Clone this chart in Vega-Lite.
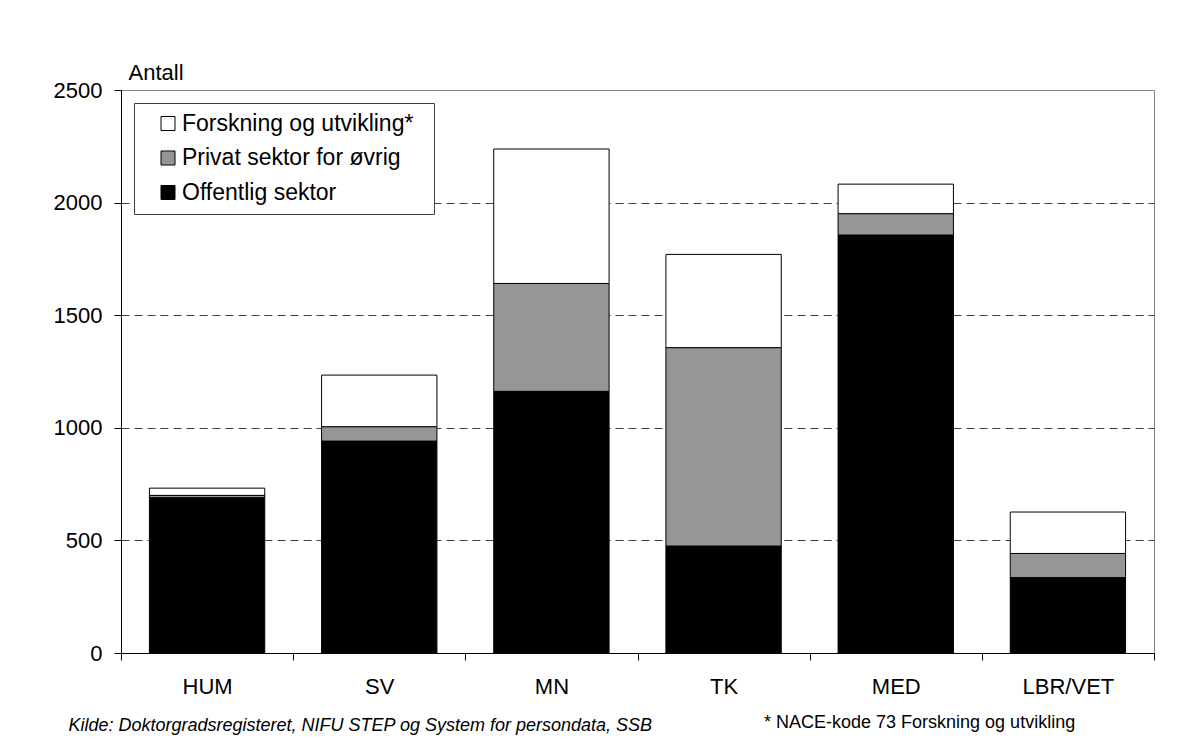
{
  "$schema": "https://vega.github.io/schema/vega-lite/v6.json",
  "width": 1033,
  "height": 563,
  "autosize": "none",
  "padding": {"left": 121, "top": 90, "right": 39, "bottom": 89},
  "background": "white",
  "config": {
    "font": "Liberation Sans",
    "view": {"stroke": "#808080", "strokeWidth": 1}
  },
  "title": {
    "text": "* NACE-kode 73 Forskning og utvikling",
    "orient": "bottom",
    "anchor": "start",
    "frame": "group",
    "dx": 643,
    "offset": -6,
    "baseline": "alphabetic",
    "fontSize": 18,
    "fontWeight": "normal",
    "color": "black"
  },
  "data": {
    "values": [
      {"fag": "HUM", "sektor": "Offentlig sektor", "rekke": 1, "antall": 690},
      {"fag": "HUM", "sektor": "Privat sektor for øvrig", "rekke": 2, "antall": 10},
      {"fag": "HUM", "sektor": "Forskning og utvikling*", "rekke": 3, "antall": 32},
      {"fag": "SV", "sektor": "Offentlig sektor", "rekke": 1, "antall": 941},
      {"fag": "SV", "sektor": "Privat sektor for øvrig", "rekke": 2, "antall": 64},
      {"fag": "SV", "sektor": "Forskning og utvikling*", "rekke": 3, "antall": 229},
      {"fag": "MN", "sektor": "Offentlig sektor", "rekke": 1, "antall": 1162},
      {"fag": "MN", "sektor": "Privat sektor for øvrig", "rekke": 2, "antall": 479},
      {"fag": "MN", "sektor": "Forskning og utvikling*", "rekke": 3, "antall": 597},
      {"fag": "TK", "sektor": "Offentlig sektor", "rekke": 1, "antall": 475},
      {"fag": "TK", "sektor": "Privat sektor for øvrig", "rekke": 2, "antall": 881},
      {"fag": "TK", "sektor": "Forskning og utvikling*", "rekke": 3, "antall": 414},
      {"fag": "MED", "sektor": "Offentlig sektor", "rekke": 1, "antall": 1856},
      {"fag": "MED", "sektor": "Privat sektor for øvrig", "rekke": 2, "antall": 95},
      {"fag": "MED", "sektor": "Forskning og utvikling*", "rekke": 3, "antall": 131},
      {"fag": "LBR/VET", "sektor": "Offentlig sektor", "rekke": 1, "antall": 335},
      {"fag": "LBR/VET", "sektor": "Privat sektor for øvrig", "rekke": 2, "antall": 107},
      {"fag": "LBR/VET", "sektor": "Forskning og utvikling*", "rekke": 3, "antall": 184}
    ]
  },
  "mark": {"type": "bar", "stroke": "black", "strokeWidth": 1},
  "encoding": {
    "x": {
      "field": "fag",
      "type": "nominal",
      "sort": ["HUM", "SV", "MN", "TK", "MED", "LBR/VET"],
      "scale": {"paddingInner": 0.33, "paddingOuter": 0.165},
      "axis": {
        "title": "Kilde: Doktorgradsregisteret, NIFU STEP og System for persondata, SSB",
        "titleFontStyle": "italic",
        "titleFontWeight": "normal",
        "titleFontSize": 18,
        "titleColor": "black",
        "titleX": -53,
        "titleY": 77,
        "titleAlign": "left",
        "titleAnchor": "start",
        "titleBaseline": "alphabetic",
        "labelAngle": 0,
        "labelFontSize": 22,
        "labelColor": "black",
        "labelPadding": 16,
        "domainColor": "black",
        "tickColor": "black",
        "tickSize": 7,
        "bandPosition": 1.4926,
        "tickOffset": -28.4,
        "tickExtra": true,
        "labelOffset": 28.4
      }
    },
    "y": {
      "field": "antall",
      "type": "quantitative",
      "stack": "zero",
      "scale": {"domain": [0, 2500], "nice": false},
      "axis": {
        "values": [0, 500, 1000, 1500, 2000, 2500],
        "format": "d",
        "title": "Antall",
        "titleAngle": 0,
        "titleX": 7,
        "titleY": -11,
        "titleAlign": "left",
        "titleBaseline": "alphabetic",
        "titleFontSize": 22,
        "titleFontWeight": "normal",
        "titleColor": "black",
        "labelFontSize": 22,
        "labelColor": "black",
        "labelPadding": 12,
        "tickSize": 7,
        "tickColor": "black",
        "domainColor": "black",
        "gridColor": "#404040",
        "gridDash": [8, 5],
        "gridOpacity": {"condition": {"test": "datum.value === 0 || datum.value === 2500", "value": 0}, "value": 1}
      }
    },
    "color": {
      "field": "sektor",
      "type": "nominal",
      "scale": {
        "domain": ["Forskning og utvikling*", "Privat sektor for øvrig", "Offentlig sektor"],
        "range": ["#ffffff", "#969696", "#000000"]
      },
      "legend": {
        "title": " ",
        "titleOrient": "right",
        "titlePadding": 12,
        "titleFontSize": 8,
        "orient": "none",
        "legendX": 13,
        "legendY": 13,
        "strokeColor": "#404040",
        "fillColor": "white",
        "padding": 9,
        "symbolType": "square",
        "symbolSize": 196,
        "symbolStrokeColor": "black",
        "symbolStrokeWidth": 1,
        "symbolOpacity": 1,
        "symbolOffset": 13.5,
        "labelOffset": 2.5,
        "labelFontSize": 23,
        "labelColor": "black",
        "labelLimit": 400,
        "rowPadding": 10.5
      }
    },
    "order": {"field": "rekke", "type": "quantitative"}
  }
}
